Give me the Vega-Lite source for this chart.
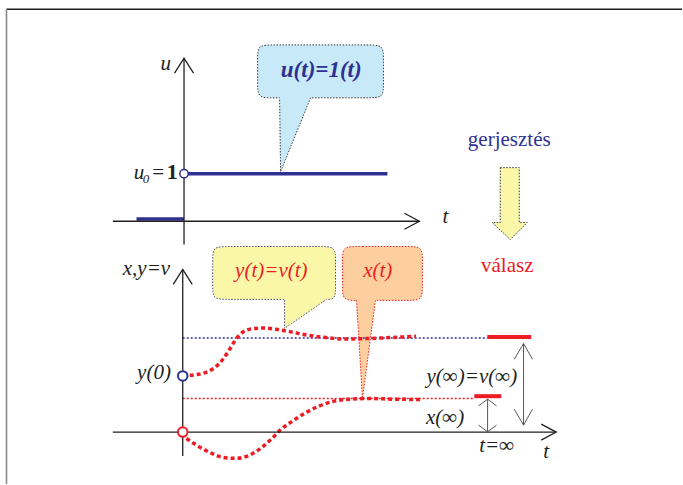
{
  "$schema": "https://vega.github.io/schema/vega-lite/v6.json",
  "width": 683,
  "height": 485,
  "autosize": {"type": "fit", "contains": "padding"},
  "padding": 0,
  "background": "white",
  "config": {"view": {"stroke": null}},
  "datasets": {
    "frame": [
      {"part": "top", "t": -17.65, "v": 42.37, "t2": 50, "v2": 42.37},
      {"part": "left", "t": -17.65, "v": 42.37, "t2": -17.65, "v2": -5.2}
    ],
    "shapes": [
      {"id": "blue", "ord": 1, "t": 7.5, "v": 38.8},
      {"id": "blue", "ord": 2, "t": 8.9, "v": 38.8},
      {"id": "blue", "ord": 3, "t": 18.7, "v": 38.8},
      {"id": "blue", "ord": 4, "t": 20.1, "v": 38.8},
      {"id": "blue", "ord": 5, "t": 20.1, "v": 37.4},
      {"id": "blue", "ord": 6, "t": 20.1, "v": 34.9},
      {"id": "blue", "ord": 7, "t": 20.1, "v": 33.5},
      {"id": "blue", "ord": 8, "t": 18.7, "v": 33.5},
      {"id": "blue", "ord": 9, "t": 12.8, "v": 33.5},
      {"id": "blue", "ord": 10, "t": 12.8, "v": 33.5},
      {"id": "blue", "ord": 11, "t": 12.8, "v": 33.5},
      {"id": "blue", "ord": 12, "t": 9.8, "v": 26.1},
      {"id": "blue", "ord": 13, "t": 9.8, "v": 26.1},
      {"id": "blue", "ord": 14, "t": 9.8, "v": 26.1},
      {"id": "blue", "ord": 15, "t": 9.7, "v": 33.5},
      {"id": "blue", "ord": 16, "t": 9.7, "v": 33.5},
      {"id": "blue", "ord": 17, "t": 9.7, "v": 33.5},
      {"id": "blue", "ord": 18, "t": 8.9, "v": 33.5},
      {"id": "blue", "ord": 19, "t": 7.5, "v": 33.5},
      {"id": "blue", "ord": 20, "t": 7.5, "v": 34.9},
      {"id": "blue", "ord": 21, "t": 7.5, "v": 37.4},
      {"id": "yellow", "ord": 1, "t": 3.0, "v": 18.6},
      {"id": "yellow", "ord": 2, "t": 4.4, "v": 18.6},
      {"id": "yellow", "ord": 3, "t": 13.9, "v": 18.6},
      {"id": "yellow", "ord": 4, "t": 15.3, "v": 18.6},
      {"id": "yellow", "ord": 5, "t": 15.3, "v": 17.2},
      {"id": "yellow", "ord": 6, "t": 15.3, "v": 14.7},
      {"id": "yellow", "ord": 7, "t": 15.3, "v": 13.3},
      {"id": "yellow", "ord": 8, "t": 14.4, "v": 13.3},
      {"id": "yellow", "ord": 9, "t": 14.4, "v": 13.3},
      {"id": "yellow", "ord": 10, "t": 14.4, "v": 13.3},
      {"id": "yellow", "ord": 11, "t": 10.2, "v": 10.4},
      {"id": "yellow", "ord": 12, "t": 10.2, "v": 10.4},
      {"id": "yellow", "ord": 13, "t": 10.2, "v": 10.4},
      {"id": "yellow", "ord": 14, "t": 10.2, "v": 13.3},
      {"id": "yellow", "ord": 15, "t": 10.2, "v": 13.3},
      {"id": "yellow", "ord": 16, "t": 10.2, "v": 13.3},
      {"id": "yellow", "ord": 17, "t": 4.4, "v": 13.3},
      {"id": "yellow", "ord": 18, "t": 3.0, "v": 13.3},
      {"id": "yellow", "ord": 19, "t": 3.0, "v": 14.7},
      {"id": "yellow", "ord": 20, "t": 3.0, "v": 17.2},
      {"id": "orange", "ord": 1, "t": 16.0, "v": 18.6},
      {"id": "orange", "ord": 2, "t": 17.4, "v": 18.6},
      {"id": "orange", "ord": 3, "t": 22.6, "v": 18.6},
      {"id": "orange", "ord": 4, "t": 24.0, "v": 18.6},
      {"id": "orange", "ord": 5, "t": 24.0, "v": 17.2},
      {"id": "orange", "ord": 6, "t": 24.0, "v": 14.6},
      {"id": "orange", "ord": 7, "t": 24.0, "v": 13.2},
      {"id": "orange", "ord": 8, "t": 22.6, "v": 13.2},
      {"id": "orange", "ord": 9, "t": 19.3, "v": 13.2},
      {"id": "orange", "ord": 10, "t": 19.3, "v": 13.2},
      {"id": "orange", "ord": 11, "t": 19.3, "v": 13.2},
      {"id": "orange", "ord": 12, "t": 18.0, "v": 3.4},
      {"id": "orange", "ord": 13, "t": 18.0, "v": 3.4},
      {"id": "orange", "ord": 14, "t": 18.0, "v": 3.4},
      {"id": "orange", "ord": 15, "t": 17.4, "v": 13.2},
      {"id": "orange", "ord": 16, "t": 17.4, "v": 13.2},
      {"id": "orange", "ord": 17, "t": 17.4, "v": 13.2},
      {"id": "orange", "ord": 18, "t": 16.0, "v": 13.2},
      {"id": "orange", "ord": 19, "t": 16.0, "v": 14.6},
      {"id": "orange", "ord": 20, "t": 16.0, "v": 17.2},
      {"id": "arrow", "ord": 1, "t": 31.8, "v": 26.5},
      {"id": "arrow", "ord": 2, "t": 33.7, "v": 26.5},
      {"id": "arrow", "ord": 3, "t": 33.7, "v": 21.0},
      {"id": "arrow", "ord": 4, "t": 34.5, "v": 21.0},
      {"id": "arrow", "ord": 5, "t": 32.8, "v": 19.3},
      {"id": "arrow", "ord": 6, "t": 31.0, "v": 21.0},
      {"id": "arrow", "ord": 7, "t": 31.8, "v": 21.0}
    ],
    "axes": [
      {"id": "ta_v", "ord": 1, "t": 0.13, "v": 37.47},
      {"id": "ta_v", "ord": 2, "t": 0.13, "v": 18.8},
      {"id": "ta_vh", "ord": 1, "t": -0.82, "v": 35.97},
      {"id": "ta_vh", "ord": 2, "t": 0.13, "v": 37.47},
      {"id": "ta_vh", "ord": 3, "t": 1.08, "v": 35.97},
      {"id": "ta_h", "ord": 1, "t": -7.0, "v": 21.13},
      {"id": "ta_h", "ord": 2, "t": 23.7, "v": 21.13},
      {"id": "ta_hh", "ord": 1, "t": 22.2, "v": 21.93},
      {"id": "ta_hh", "ord": 2, "t": 23.7, "v": 21.13},
      {"id": "ta_hh", "ord": 3, "t": 22.2, "v": 20.33},
      {"id": "ba_v", "ord": 1, "t": 0, "v": 16.3},
      {"id": "ba_v", "ord": 2, "t": 0, "v": -2.4},
      {"id": "ba_vh", "ord": 1, "t": -0.95, "v": 14.8},
      {"id": "ba_vh", "ord": 2, "t": 0, "v": 16.3},
      {"id": "ba_vh", "ord": 3, "t": 0.95, "v": 14.8},
      {"id": "ba_h", "ord": 1, "t": -7.0, "v": 0},
      {"id": "ba_h", "ord": 2, "t": 37.4, "v": 0},
      {"id": "ba_hh", "ord": 1, "t": 35.9, "v": 0.8},
      {"id": "ba_hh", "ord": 2, "t": 37.4, "v": 0},
      {"id": "ba_hh", "ord": 3, "t": 35.9, "v": -0.8}
    ],
    "dims": [
      {"id": "big", "ord": 1, "t": 34.13, "v": 8.87},
      {"id": "big", "ord": 2, "t": 34.13, "v": 0.7},
      {"id": "big_top", "ord": 1, "t": 33.2, "v": 7.3},
      {"id": "big_top", "ord": 2, "t": 34.13, "v": 8.87},
      {"id": "big_top", "ord": 3, "t": 35.03, "v": 7.3},
      {"id": "big_bot", "ord": 1, "t": 33.2, "v": 2.3},
      {"id": "big_bot", "ord": 2, "t": 34.13, "v": 0.7},
      {"id": "big_bot", "ord": 3, "t": 35.03, "v": 2.3},
      {"id": "small", "ord": 1, "t": 30.53, "v": 3.3},
      {"id": "small", "ord": 2, "t": 30.53, "v": 0.03},
      {"id": "small_top", "ord": 1, "t": 29.63, "v": 2.63},
      {"id": "small_top", "ord": 2, "t": 30.53, "v": 3.3},
      {"id": "small_top", "ord": 3, "t": 31.43, "v": 2.63},
      {"id": "small_bot", "ord": 1, "t": 29.63, "v": 0.7},
      {"id": "small_bot", "ord": 2, "t": 30.53, "v": 0.03},
      {"id": "small_bot", "ord": 3, "t": 31.43, "v": 0.7}
    ],
    "levels": [
      {"level": "y_inf", "t": 0, "t2": 30.5, "v": 9.43},
      {"level": "x_inf", "t": 0, "t2": 29.2, "v": 3.37}
    ],
    "limits": [
      {"level": "y_inf", "t": 30.5, "t2": 34.9, "v": 9.53},
      {"level": "x_inf", "t": 29.2, "t2": 31.9, "v": 3.6}
    ],
    "step": [
      {"seg": "after", "t": 0.13, "t2": 20.5, "v": 25.9},
      {"seg": "before", "t": -4.63, "t2": 0.13, "v": 21.35}
    ],
    "curves": [
      {"series": "y", "t": 0.7, "v": 5.7},
      {"series": "y", "t": 2.03, "v": 5.9},
      {"series": "y", "t": 3.2, "v": 6.47},
      {"series": "y", "t": 4.03, "v": 7.3},
      {"series": "y", "t": 4.7, "v": 8.3},
      {"series": "y", "t": 5.37, "v": 9.37},
      {"series": "y", "t": 6.03, "v": 10.03},
      {"series": "y", "t": 7.03, "v": 10.37},
      {"series": "y", "t": 8.2, "v": 10.43},
      {"series": "y", "t": 9.37, "v": 10.3},
      {"series": "y", "t": 10.7, "v": 10.07},
      {"series": "y", "t": 12.37, "v": 9.73},
      {"series": "y", "t": 14.37, "v": 9.47},
      {"series": "y", "t": 16.37, "v": 9.33},
      {"series": "y", "t": 18.37, "v": 9.37},
      {"series": "y", "t": 20.7, "v": 9.47},
      {"series": "y", "t": 23.37, "v": 9.6},
      {"series": "x", "t": 0.37, "v": -0.63},
      {"series": "x", "t": 1.37, "v": -1.3},
      {"series": "x", "t": 2.7, "v": -2.03},
      {"series": "x", "t": 4.03, "v": -2.53},
      {"series": "x", "t": 5.37, "v": -2.63},
      {"series": "x", "t": 6.53, "v": -2.37},
      {"series": "x", "t": 7.7, "v": -1.7},
      {"series": "x", "t": 8.87, "v": -0.7},
      {"series": "x", "t": 9.87, "v": 0.3},
      {"series": "x", "t": 11.03, "v": 1.13},
      {"series": "x", "t": 12.37, "v": 1.97},
      {"series": "x", "t": 13.7, "v": 2.63},
      {"series": "x", "t": 15.03, "v": 3.07},
      {"series": "x", "t": 16.7, "v": 3.3},
      {"series": "x", "t": 18.7, "v": 3.37},
      {"series": "x", "t": 21.03, "v": 3.3},
      {"series": "x", "t": 23.87, "v": 3.27}
    ],
    "points": [
      {"name": "u0", "role": "excitation", "t": 0.13, "v": 25.9},
      {"name": "y0", "role": "excitation", "t": 0, "v": 5.63},
      {"name": "x0", "role": "response", "t": 0, "v": 0}
    ],
    "labels_italic": [
      {"text": "u", "role": "annotation", "t": -1.7, "v": 36.3},
      {"text": "t", "role": "annotation", "t": 26.3, "v": 20.97},
      {"text": "u", "role": "annotation", "t": -4.38, "v": 25.35},
      {"text": "x,y=v", "role": "annotation", "t": -3.63, "v": 15.77},
      {"text": "y(0)", "role": "annotation", "t": -2.88, "v": 5.3},
      {"text": "y(t)=v(t)", "role": "response", "t": 8.87, "v": 15.5},
      {"text": "x(t)", "role": "response", "t": 19.53, "v": 15.5},
      {"text": "y(∞)=v(∞)", "role": "annotation", "t": 28.95, "v": 4.97},
      {"text": "x(∞)", "role": "annotation", "t": 26.28, "v": 0.8},
      {"text": "t=∞", "role": "annotation", "t": 31.45, "v": -2.0},
      {"text": "t", "role": "annotation", "t": 36.4, "v": -2.6}
    ],
    "labels_sub": [
      {"text": "0", "role": "annotation", "t": -3.67, "v": 25.0}
    ],
    "labels_plain": [
      {"text": "=", "role": "annotation", "t": -2.47, "v": 25.35},
      {"text": "gerjesztés", "role": "excitation", "t": 32.7, "v": 28.63},
      {"text": "válasz", "role": "response", "t": 32.5, "v": 16.03}
    ],
    "labels_bold": [
      {"text": "1", "role": "annotation", "t": -1.05, "v": 25.35}
    ],
    "labels_bolditalic": [
      {"text": "u(t)=1(t)", "role": "excitation", "t": 13.87, "v": 35.6}
    ]
  },
  "encoding": {
    "x": {"field": "t", "type": "quantitative", "scale": {"domain": [-18.3, 50], "nice": false, "zero": false}, "axis": null},
    "y": {"field": "v", "type": "quantitative", "scale": {"domain": [-5.2, 43.3], "nice": false, "zero": false}, "axis": null}
  },
  "layer": [
    {
      "data": {"name": "frame"},
      "transform": [{"filter": "datum.part === 'top'"}],
      "mark": {"type": "rule", "stroke": "#1e1e1e", "strokeWidth": 1.6},
      "encoding": {"x2": {"field": "t2"}, "y2": {"field": "v2"}}
    },
    {
      "data": {"name": "frame"},
      "transform": [{"filter": "datum.part === 'left'"}],
      "mark": {"type": "rule", "stroke": "#8a8a8a", "strokeWidth": 1.6},
      "encoding": {"x2": {"field": "t2"}, "y2": {"field": "v2"}}
    },
    {
      "data": {"name": "shapes"},
      "transform": [{"filter": "datum.id === 'blue'"}],
      "mark": {"type": "line", "interpolate": "basis-closed", "fill": "#c8e9f8", "stroke": "#3a3a3a", "strokeWidth": 1, "strokeDash": [1.5, 1.5]},
      "encoding": {"order": {"field": "ord", "type": "quantitative"}}
    },
    {
      "data": {"name": "shapes"},
      "transform": [{"filter": "datum.id === 'yellow'"}],
      "mark": {"type": "line", "interpolate": "basis-closed", "fill": "#fbf7a9", "stroke": "#4a4a7a", "strokeWidth": 1, "strokeDash": [1.5, 1.5]},
      "encoding": {"order": {"field": "ord", "type": "quantitative"}}
    },
    {
      "data": {"name": "shapes"},
      "transform": [{"filter": "datum.id === 'orange'"}],
      "mark": {"type": "line", "interpolate": "basis-closed", "fill": "#fdcf9e", "stroke": "#ed1c24", "strokeWidth": 1, "strokeDash": [1.5, 1.5]},
      "encoding": {"order": {"field": "ord", "type": "quantitative"}}
    },
    {
      "data": {"name": "shapes"},
      "transform": [{"filter": "datum.id === 'arrow'"}],
      "mark": {"type": "line", "interpolate": "linear-closed", "fill": "#fbf7a9", "stroke": "#333333", "strokeWidth": 1, "strokeDash": [1.5, 1.5]},
      "encoding": {"order": {"field": "ord", "type": "quantitative"}}
    },
    {
      "data": {"name": "levels"},
      "transform": [{"filter": "datum.level === 'y_inf'"}],
      "mark": {"type": "rule", "stroke": "#2e3192", "strokeWidth": 1.3, "strokeDash": [2, 2]},
      "encoding": {"x2": {"field": "t2"}}
    },
    {
      "data": {"name": "levels"},
      "transform": [{"filter": "datum.level === 'x_inf'"}],
      "mark": {"type": "rule", "stroke": "#ed1c24", "strokeWidth": 1.3, "strokeDash": [2, 2]},
      "encoding": {"x2": {"field": "t2"}}
    },
    {
      "data": {"name": "curves"},
      "mark": {"type": "line", "interpolate": "monotone", "stroke": "#ed1c24", "strokeWidth": 3.5, "strokeDash": [4, 3]},
      "encoding": {"detail": {"field": "series"}}
    },
    {
      "data": {"name": "limits"},
      "mark": {"type": "rule", "stroke": "#ed1c24", "strokeWidth": 4},
      "encoding": {"x2": {"field": "t2"}}
    },
    {
      "data": {"name": "step"},
      "mark": {"type": "rule", "stroke": "#2e3192", "strokeWidth": 3.5},
      "encoding": {"x2": {"field": "t2"}}
    },
    {
      "data": {"name": "axes"},
      "mark": {"type": "line", "stroke": "#231f20", "strokeWidth": 1.3},
      "encoding": {"detail": {"field": "id"}, "order": {"field": "ord", "type": "quantitative"}}
    },
    {
      "data": {"name": "dims"},
      "mark": {"type": "line", "stroke": "#444444", "strokeWidth": 0.9},
      "encoding": {"detail": {"field": "id"}, "order": {"field": "ord", "type": "quantitative"}}
    },
    {
      "data": {"name": "points"},
      "transform": [{"filter": "datum.name === 'u0'"}],
      "mark": {"type": "point", "shape": "circle", "filled": false, "fill": "white", "fillOpacity": 1, "stroke": "#2e3192", "strokeWidth": 1.5, "size": 70, "opacity": 1}
    },
    {
      "data": {"name": "points"},
      "transform": [{"filter": "datum.name === 'y0'"}],
      "mark": {"type": "point", "shape": "circle", "filled": false, "fill": "white", "fillOpacity": 1, "stroke": "#2e3192", "strokeWidth": 2, "size": 90, "opacity": 1}
    },
    {
      "data": {"name": "points"},
      "transform": [{"filter": "datum.name === 'x0'"}],
      "mark": {"type": "point", "shape": "circle", "filled": false, "fill": "white", "fillOpacity": 1, "stroke": "#ed1c24", "strokeWidth": 2, "size": 90, "opacity": 1}
    },
    {
      "data": {"name": "labels_italic"},
      "mark": {"type": "text", "font": "Liberation Serif", "fontSize": 21, "fontStyle": "italic", "align": "center", "baseline": "alphabetic"},
      "encoding": {
        "text": {"field": "text"},
        "color": {"field": "role", "type": "nominal", "scale": {"domain": ["excitation", "response", "annotation"], "range": ["#2e3192", "#ed1c24", "#231f20"]}, "legend": null}
      }
    },
    {
      "data": {"name": "labels_sub"},
      "mark": {"type": "text", "font": "Liberation Serif", "fontSize": 13, "fontStyle": "italic", "align": "center", "baseline": "alphabetic"},
      "encoding": {
        "text": {"field": "text"},
        "color": {"field": "role", "type": "nominal", "scale": {"domain": ["excitation", "response", "annotation"], "range": ["#2e3192", "#ed1c24", "#231f20"]}, "legend": null}
      }
    },
    {
      "data": {"name": "labels_plain"},
      "mark": {"type": "text", "font": "Liberation Serif", "fontSize": 21, "align": "center", "baseline": "alphabetic"},
      "encoding": {
        "text": {"field": "text"},
        "color": {"field": "role", "type": "nominal", "scale": {"domain": ["excitation", "response", "annotation"], "range": ["#2e3192", "#ed1c24", "#231f20"]}, "legend": null}
      }
    },
    {
      "data": {"name": "labels_bold"},
      "mark": {"type": "text", "font": "Liberation Serif", "fontSize": 22, "fontWeight": "bold", "align": "center", "baseline": "alphabetic"},
      "encoding": {
        "text": {"field": "text"},
        "color": {"field": "role", "type": "nominal", "scale": {"domain": ["excitation", "response", "annotation"], "range": ["#2e3192", "#ed1c24", "#231f20"]}, "legend": null}
      }
    },
    {
      "data": {"name": "labels_bolditalic"},
      "mark": {"type": "text", "font": "Liberation Serif", "fontSize": 23, "fontWeight": "bold", "fontStyle": "italic", "align": "center", "baseline": "alphabetic"},
      "encoding": {
        "text": {"field": "text"},
        "color": {"field": "role", "type": "nominal", "scale": {"domain": ["excitation", "response", "annotation"], "range": ["#2e3192", "#ed1c24", "#231f20"]}, "legend": null}
      }
    }
  ]
}
